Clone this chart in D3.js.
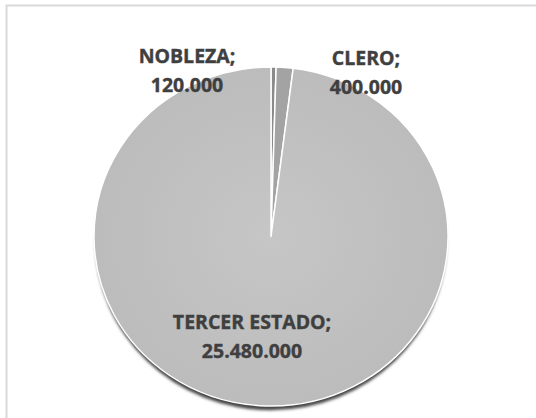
<!DOCTYPE html>
<html>
<head>
<meta charset="utf-8">
<script src="https://cdn.jsdelivr.net/npm/d3@7"></script>
<style>
  body { margin: 0; background: #fff; }
  svg { display: block; }
</style>
</head>
<body>
<svg id="chart"></svg>
<script>
// estamentos, empezando en las 12 y en sentido horario
const categories = ['NOBLEZA', 'CLERO', 'TERCER ESTADO'];
const values = [120000, 400000, 25480000];
const valueLabels = ['120.000', '400.000', '25.480.000'];
const colors = ['#8a8a8a', '#a3a3a3', '#c0c0c0'];

let width = 536;
let height = 418;
let cx = 271, cy = 236.5;
let rx = 177, ry = 169.5;

let svg = d3.select('#chart')
  .attr('width', width)
  .attr('height', height);

// marco del gráfico (solo se ven arriba y a la izquierda)
svg.append('rect')
  .attr('x', 6.5).attr('y', 5.5)
  .attr('width', width + 20).attr('height', height + 20)
  .attr('fill', 'none')
  .attr('stroke', '#d9d9d9')
  .attr('stroke-width', 2);

let defs = svg.append('defs');
defs.append('filter').attr('id', 'blur')
  .attr('x', '-10%').attr('y', '-10%').attr('width', '120%').attr('height', '120%')
  .append('feGaussianBlur').attr('stdDeviation', 1.4);

let grad = defs.append('radialGradient').attr('id', 'shade')
  .attr('cx', '50%').attr('cy', '50%').attr('r', '50%');
grad.append('stop').attr('offset', '0%').attr('stop-color', '#c6c6c6');
grad.append('stop').attr('offset', '100%').attr('stop-color', '#bcbcbc');

let pie = d3.pie().sort(null).value(d => d);
let arcs = pie(values);

// circle of radius rx, squashed vertically to match the picture
let g = svg.append('g')
  .attr('transform', `translate(${cx},${cy}) scale(1,${ry / rx})`);

// sombra
g.append('circle')
  .attr('cx', 0).attr('cy', 6)
  .attr('r', rx - 1.5)
  .attr('fill', '#444444')
  .attr('filter', 'url(#blur)');

let arc = d3.arc().innerRadius(0).outerRadius(rx);

g.selectAll('path.slice')
  .data(arcs)
  .enter()
  .append('path')
  .attr('class', 'slice')
  .attr('d', arc)
  .attr('fill', (d, i) => i === 2 ? 'url(#shade)' : colors[i])
  .attr('stroke', '#ffffff')
  .attr('stroke-width', 1.5)
  .attr('stroke-linejoin', 'round');

// etiquetas: posición relativa al centro del pastel
let labelPos = [
  { dx: -84, dy: -174 },
  { dx: 95, dy: -172 },
  { dx: -19, dy: 92 }
];

let labels = svg.append('g')
  .selectAll('text')
  .data(arcs)
  .enter()
  .append('text')
  .attr('text-anchor', 'middle')
  .attr('font-family', '"Open Sans", sans-serif')
  .attr('font-weight', 'bold')
  .attr('font-size', 19.5)
  .attr('fill', '#3f3f3f')
  .attr('stroke', '#3f3f3f')
  .attr('stroke-width', 0.4)
  .attr('transform', (d, i) => `translate(${cx + labelPos[i].dx},${cy + labelPos[i].dy})`);

labels.append('tspan')
  .attr('x', 0).attr('y', 0)
  .text((d, i) => categories[i] + ';');
labels.append('tspan')
  .attr('x', 0).attr('dy', 29)
  .text((d, i) => valueLabels[i]);
</script>
</body>
</html>
